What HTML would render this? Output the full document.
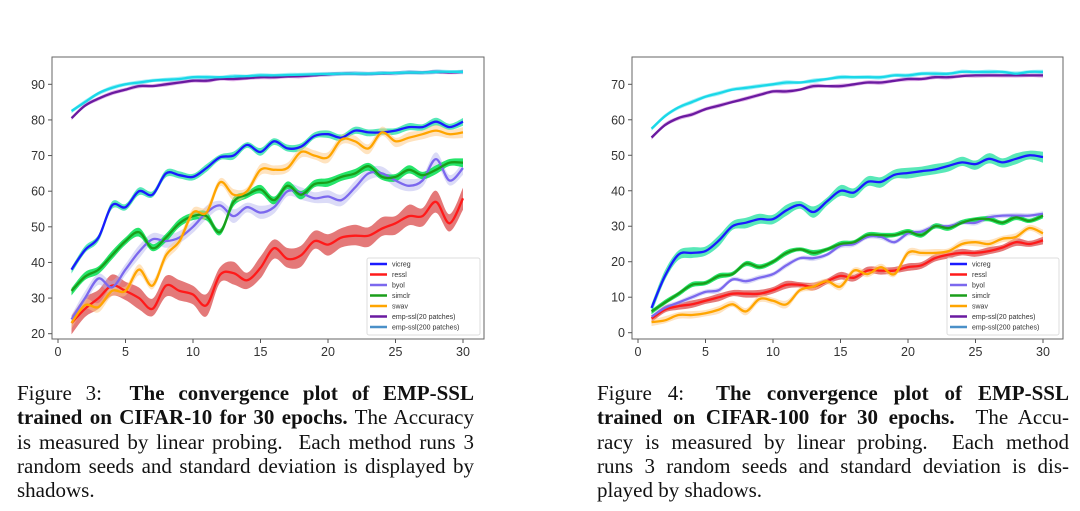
<!DOCTYPE html>
<html><head><meta charset="utf-8">
<style>
html,body{margin:0;padding:0;background:#fff;}
body{width:1080px;height:511px;position:relative;overflow:hidden;font-family:"Liberation Sans",sans-serif;}
svg{position:absolute;left:0;top:0;}
.cap{position:absolute;font-family:"Liberation Serif",serif;font-size:21px;color:#111;}
.cap div{white-space:nowrap;text-align:justify;text-align-last:justify;height:24.3px;line-height:24.3px;}
.cap div.last{text-align-last:left;}
</style></head><body>
<svg id="chart" width="1080" height="511"></svg>
<div class="cap" style="left:17px;top:381px;width:457px;">
<div>Figure 3:&nbsp; <b>The convergence plot of EMP-SSL</b></div>
<div><b>trained on CIFAR-10 for 30 epochs.</b> The Accuracy</div>
<div>is measured by linear probing.&nbsp; Each method runs 3</div>
<div>random seeds and standard deviation is displayed by</div>
<div class="last">shadows.</div>
</div>
<div class="cap" style="left:597px;top:381px;width:472px;">
<div>Figure 4:&nbsp; <b>The convergence plot of EMP-SSL</b></div>
<div><b>trained on CIFAR-100 for 30 epochs.</b>&nbsp; The Accu-</div>
<div>racy is measured by linear probing.&nbsp; Each method</div>
<div>runs 3 random seeds and standard deviation is dis-</div>
<div class="last">played by shadows.</div>
</div>
<script>
const epochs = [1,2,3,4,5,6,7,8,9,10,11,12,13,14,15,16,17,18,19,20,21,22,23,24,25,26,27,28,29,30];
const seriesNames = ["vicreg","ressl","byol","simclr","swav","emp-ssl(20 patches)","emp-ssl(200 patches)"];
const xTicks = [0,5,10,15,20,25,30];
const yTicksA = [20,30,40,50,60,70,80,90];
const yTicksB = [0,10,20,30,40,50,60,70];

// CIFAR-10
const c10Vicreg = [38,43.5,47,56,55.5,60,59,65,64.5,64,66.5,69.5,70,73,71,74,72,72.5,75.5,76,75,77,76.5,76.5,77,78,78,79.5,78,79.5];
const c10Ressl = [23,27,30,33.5,32,30,27,33.5,32,31,28,36.5,37,35,38.5,44,41,42,46,45,47,47.5,47.5,49.5,51,53,53,57,51,58];
const c10Byol = [24,30,35.5,33,38,43,46.5,46,47,50,54,56,53,55.5,54,55.5,60,59.5,58,58.5,57.5,61,65,65,63,61.5,63,69,63,66.5];
const c10Simclr = [32,36,38,42,46,48.5,44,47,51,53,53,48.5,57,59,60.5,57.5,61.5,59,62,62.5,64,65,67,64,64,66,64.5,66,68,68];
const c10Swav = [23,28,27.5,32,32,38,33.5,42,46,54,54,62.5,59,60,66,66,66.5,71,70,69.5,74.5,74,72,76.5,74,75,76,77,76,76.5];
const c10Emp20 = [80.5,84,86,87.5,88.5,89.5,89.5,90,90.5,91,91,91.5,91.5,91.7,92,92,92.2,92.3,92.5,92.8,93,93,93,93,93.2,93.3,93.3,93.5,93.3,93.5];
const c10Emp200 = [82.5,85,87.5,89,90,90.5,91,91.3,91.5,92,92,92,92.2,92.3,92.5,92.5,92.6,92.7,92.8,92.9,93,93,93,93.1,93.2,93.3,93.3,93.5,93.5,93.5];
const c10Std = [0.7,2.0,1.2,0.8,1.0,0.4,0.4];

// CIFAR-100
const c100Vicreg = [7,16,22,22.5,23,26,30,31,32,32,34.5,36,34,37,40,39.5,42.5,42.5,44.5,45,45.5,46,47,48,47.5,49,48,49,50,49.5];
const c100Ressl = [4,6.5,7.5,8,9,10,11,11,11,12,13.5,13.5,13,14.5,16,15.5,17.5,17.5,17.5,18.5,19,21,22,22.5,22.5,23,24,25.5,25,26];
const c100Byol = [4.5,7,8.5,10,11.5,12,15,14.5,15.5,16.5,19,21,21,22,24.5,25,27,27,25.5,28,28.5,30,30,31,31,32.5,33,33,33,33.5];
const c100Simclr = [6,8.5,11,13.5,14,16,16.5,19.5,18.5,20,22.5,23.5,22.5,23.5,25,25.5,27.5,27.5,27.5,28.5,27.5,30,29.5,31,32,32,31,32.5,31.5,33];
const c100Swav = [3,3.5,5,5,5.5,6.5,8,6,9.5,9,8,12,13,14.5,13,17.5,16.5,18.5,16.5,22.5,22.5,22.5,23,25,25.5,25,26.5,27,29.5,28];
const c100Emp20 = [55,58.5,60.5,61.5,63,64,65,66,67,68,68,68.5,69.5,69.5,69.5,70,70.5,70.5,71,71.5,71.5,72,72,72.3,72.5,72.5,72.5,72.5,72.5,72.5];
const c100Emp200 = [57.5,61,63.5,65,66.5,67.5,68.5,69,69.5,70,70.5,70.5,71,71.5,72,72,72,72,72.5,72.5,73,73,73,73.5,73.5,73.5,73.5,73,73.5,73.5];
const c100Std = [1.0,0.7,0.5,0.5,0.7,0.4,0.4];

const lineColors = ["#1a1aff","#ff1a1a","#7b68ee","#1a9e1a","#ffa500","#6a1aa0","#1ad8e8"];
const legendColors = ["#1a1aff","#ff1a1a","#7b68ee","#1a9e1a","#ffa500","#6a1aa0","#4a90c8"];
const bandColors = ["#20e0a0","#d22020","#b0b0ee","#00e050","#ffc880","#c060d0","#40e0f0"];
const bandOpacity = [0.75,0.6,0.45,0.85,0.5,0.5,0.5];

const NS="http://www.w3.org/2000/svg";
const svg=document.getElementById('chart');
function mk(tag,attrs,parent){const e=document.createElementNS(NS,tag);for(const k in attrs)e.setAttribute(k,attrs[k]);(parent||svg).appendChild(e);return e;}
function spline(pts){
  let d="M"+pts[0][0].toFixed(1)+","+pts[0][1].toFixed(1);
  for(let i=0;i<pts.length-1;i++){
    const p0=pts[i-1]||pts[i],p1=pts[i],p2=pts[i+1],p3=pts[i+2]||p2;
    const c1=[p1[0]+(p2[0]-p0[0])/6,p1[1]+(p2[1]-p0[1])/6];
    const c2=[p2[0]-(p3[0]-p1[0])/6,p2[1]-(p3[1]-p1[1])/6];
    d+=" C"+c1[0].toFixed(1)+","+c1[1].toFixed(1)+" "+c2[0].toFixed(1)+","+c2[1].toFixed(1)+" "+p2[0].toFixed(1)+","+p2[1].toFixed(1);
  }
  return d;
}
function drawChart(cfg){
  const g=mk('g',{});
  
  
  const xs=v=>cfg.x0+(v)*(cfg.x30-cfg.x0)/30;
  const ys=v=>cfg.yTop+(cfg.vTop-v)*(cfg.yBot-cfg.yTop)/(cfg.vTop-cfg.vBot);
  const frame=mk('rect',{x:cfg.fl,y:cfg.ft,width:cfg.fr-cfg.fl,height:cfg.fb-cfg.ft,fill:'none',stroke:'#666','stroke-width':1},g);
  
  
  cfg.xTicks.forEach(t=>{
    const x=xs(t);
    const tk=mk('line',{x1:x,x2:x,y1:cfg.fb,y2:cfg.fb+4,stroke:'#555'},g);
    
    
    const tl=mk('text',{x:x,y:cfg.fb+17,'font-size':12.5,'text-anchor':'middle',fill:'#333'},g);
    tl.textContent=t;
    
    
  });
  cfg.yTicks.forEach(t=>{
    const y=ys(t);
    const tk=mk('line',{x1:cfg.fl-4,x2:cfg.fl,y1:y,y2:y,stroke:'#555'},g);
    
    
    const tl=mk('text',{x:cfg.fl-7,y:y+4.5,'font-size':12.5,'text-anchor':'end',fill:'#333'},g);
    tl.textContent=t;
    
    
  });
  cfg.series.forEach((vals,si)=>{
    const sd=cfg.std[si];
    const up=vals.map((v,i)=>[xs(epochs[i]),ys(v+sd*(1+0.6*Math.abs(Math.sin(i*1.7))))]);
    const dn=vals.map((v,i)=>[xs(epochs[i]),ys(v-sd*(1+0.6*Math.abs(Math.cos(i*1.3))))]).reverse();
    const band=mk('path',{d:spline(up)+" L"+spline(dn).slice(1)+" Z",fill:bandColors[si],'fill-opacity':bandOpacity[si],stroke:'none'},g);
    
    
  });
  cfg.series.forEach((vals,si)=>{
    const pts=vals.map((v,i)=>[xs(epochs[i]),ys(v)]);
    const ln=mk('path',{d:spline(pts),fill:'none',stroke:lineColors[si],'stroke-width':2.3,'stroke-linejoin':'round'},g);
    
    
  });
  const lg=mk('g',{},g);
  
  
  const lb=mk('rect',{x:cfg.lx,y:cfg.ly,width:cfg.lw,height:77,fill:'#fff','fill-opacity':0.85,stroke:'#ddd',rx:2},lg);
  
  
  seriesNames.forEach((n,i)=>{
    const y=cfg.ly+6+i*10.5;
    const sw=mk('line',{x1:cfg.lx+3,x2:cfg.lx+20,y1:y,y2:y,stroke:legendColors[i],'stroke-width':2.4},lg);
    
    
    const t=mk('text',{x:cfg.lx+25,y:y+2.5,'font-size':7,fill:'#333'},lg);
    t.textContent=n;
    
    
  });
}
drawChart({name:'cifar10-chart',fl:52,fr:484,ft:57,fb:339,x0:58,x30:463,yTop:84.3,vTop:90,yBot:333.7,vBot:20,
  xTicks:xTicks,yTicks:yTicksA,series:[c10Vicreg,c10Ressl,c10Byol,c10Simclr,c10Swav,c10Emp20,c10Emp200],std:c10Std,lx:367,ly:258,lw:113});
drawChart({name:'cifar100-chart',fl:632,fr:1063,ft:57,fb:339,x0:638,x30:1043,yTop:84.3,vTop:70,yBot:332.7,vBot:0,
  xTicks:xTicks,yTicks:yTicksB,series:[c100Vicreg,c100Ressl,c100Byol,c100Simclr,c100Swav,c100Emp20,c100Emp200],std:c100Std,lx:947,ly:258,lw:112});
</script>
</body></html>
